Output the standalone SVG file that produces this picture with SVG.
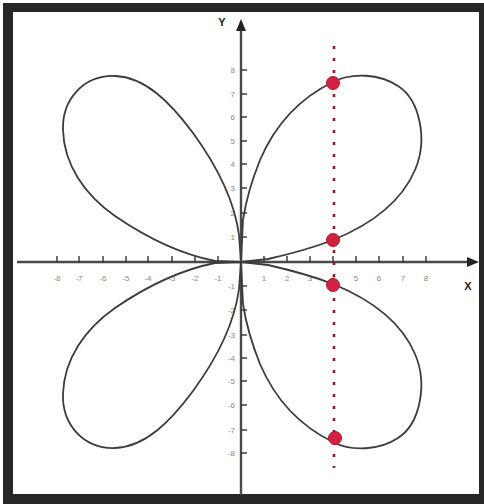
<svg xmlns="http://www.w3.org/2000/svg" width="484" height="504" viewBox="0 0 484 504">
<defs>
<style>
.ax{stroke:#4a4a4a;stroke-width:2.4;fill:none}
.tk{stroke:#333;stroke-width:1.4}
.lb{font-family:"Liberation Sans",Arial,sans-serif;font-size:8px;fill:#888}
.al{font-family:"Liberation Sans",Arial,sans-serif;font-size:11px;font-weight:bold;fill:#222}
.cv{stroke:#3c3c3c;stroke-width:1.8;fill:none;stroke-linejoin:round}
.pt{fill:#d3223f;stroke:#b0182f;stroke-width:1}
.dl{stroke:#8e1b30;stroke-width:2.6;stroke-dasharray:3 9;fill:none}
</style>
<path id="ur" d="M241,262 L268,259 C290,254 315,247 333,240 C365,227 400,205 415,170 C428,140 420,100 398,86 C380,74 352,72 333,82 C300,98 275,125 260,160 C252,180 246,200 243,220 L241,262"/>
<path id="ul" d="M241,262 L239,235 C235,205 220,170 193,133 C170,102 145,77 115,76 C83,75 62,100 63,130 C64,165 85,195 115,216 C150,240 185,255 215,261 L241,262"/>
</defs>
<rect x="0" y="0" width="484" height="504" fill="#fff"/>
<rect x="3" y="3" width="481" height="501" fill="#262626"/>
<rect x="13" y="12" width="466" height="482" fill="#fff"/>

<g id="axes">
<line class="ax" x1="17" y1="262" x2="470" y2="262"/>
<polygon points="479,262 467,257 467,267" fill="#222"/>
<line class="ax" x1="241" y1="495" x2="241" y2="28"/>
<polygon points="241,19 236,31 246,31" fill="#222"/>
<g id="xticks">
<line class="tk" x1="57" y1="256" x2="57" y2="262"/><line class="tk" x1="79" y1="256" x2="79" y2="262"/>
<line class="tk" x1="103" y1="256" x2="103" y2="262"/><line class="tk" x1="126" y1="256" x2="126" y2="262"/>
<line class="tk" x1="148" y1="256" x2="148" y2="262"/><line class="tk" x1="172" y1="256" x2="172" y2="262"/>
<line class="tk" x1="195" y1="256" x2="195" y2="262"/><line class="tk" x1="218" y1="256" x2="218" y2="262"/>
<line class="tk" x1="264" y1="256" x2="264" y2="262"/><line class="tk" x1="287" y1="256" x2="287" y2="262"/>
<line class="tk" x1="310" y1="256" x2="310" y2="262"/><line class="tk" x1="333" y1="256" x2="333" y2="262"/>
<line class="tk" x1="356" y1="256" x2="356" y2="262"/><line class="tk" x1="379" y1="256" x2="379" y2="262"/>
<line class="tk" x1="403" y1="256" x2="403" y2="262"/><line class="tk" x1="426" y1="256" x2="426" y2="262"/>
</g>
<g id="yticks">
<line class="tk" x1="241" y1="70" x2="247" y2="70"/><line class="tk" x1="241" y1="94" x2="247" y2="94"/>
<line class="tk" x1="241" y1="117" x2="247" y2="117"/><line class="tk" x1="241" y1="141" x2="247" y2="141"/>
<line class="tk" x1="241" y1="164" x2="247" y2="164"/><line class="tk" x1="241" y1="188" x2="247" y2="188"/>
<line class="tk" x1="241" y1="213" x2="247" y2="213"/><line class="tk" x1="241" y1="237" x2="247" y2="237"/>
<line class="tk" x1="241" y1="286" x2="247" y2="286"/><line class="tk" x1="241" y1="310" x2="247" y2="310"/>
<line class="tk" x1="241" y1="335" x2="247" y2="335"/><line class="tk" x1="241" y1="358" x2="247" y2="358"/>
<line class="tk" x1="241" y1="381" x2="247" y2="381"/><line class="tk" x1="241" y1="405" x2="247" y2="405"/>
<line class="tk" x1="241" y1="430" x2="247" y2="430"/><line class="tk" x1="241" y1="453" x2="247" y2="453"/>
</g>
<g id="xlabels" class="lb" text-anchor="middle">
<text x="57" y="281">-8</text><text x="79" y="281">-7</text><text x="103" y="281">-6</text><text x="126" y="281">-5</text>
<text x="148" y="281">-4</text><text x="172" y="281">-3</text><text x="195" y="281">-2</text><text x="218" y="281">-1</text>
<text x="264" y="281">1</text><text x="287" y="281">2</text><text x="310" y="281">3</text><text x="333" y="281">4</text>
<text x="356" y="281">5</text><text x="379" y="281">6</text><text x="403" y="281">7</text><text x="426" y="281">8</text>
</g>
<g id="ylabels" class="lb" text-anchor="end">
<text x="235" y="73">8</text><text x="235" y="97">7</text><text x="235" y="120">6</text><text x="235" y="144">5</text>
<text x="235" y="167">4</text><text x="235" y="191">3</text><text x="235" y="216">2</text><text x="235" y="240">1</text>
<text x="235" y="289">-1</text><text x="235" y="313">-2</text><text x="235" y="338">-3</text><text x="235" y="361">-4</text>
<text x="235" y="384">-5</text><text x="235" y="408">-6</text><text x="235" y="433">-7</text><text x="235" y="456">-8</text>
</g>
<text class="al" x="468" y="290" text-anchor="middle">X</text>
<text class="al" x="222" y="26" text-anchor="middle">Y</text>
</g>

<g id="curve">
<use href="#ur" class="cv"/>
<use href="#ul" class="cv"/>
<use href="#ul" class="cv" transform="matrix(1,0,0,-1,0,524)"/>
<use href="#ur" class="cv" transform="matrix(1,0,0,-1,0,524)"/>
</g>

<g id="connectors">
<line class="dl" x1="334" y1="46" x2="334" y2="468"/>
</g>

<g id="points">
<circle class="pt" cx="333" cy="83" r="6.5"/>
<circle class="pt" cx="333" cy="240" r="6.5"/>
<circle class="pt" cx="333" cy="285" r="6.5"/>
<circle class="pt" cx="335" cy="438" r="6.5"/>
</g>
</svg>
